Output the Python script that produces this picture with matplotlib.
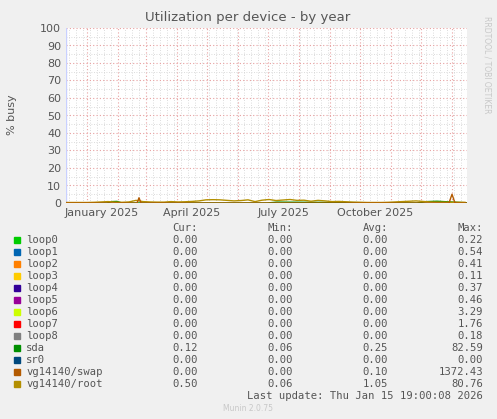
import numpy as np
import matplotlib.pyplot as plt

# days since 2025-01-01 ; plot spans roughly Dec 11 2024 .. Jan 15 2026
x_start, x_end = -21, 380

names = ['loop0', 'loop1', 'loop2', 'loop3', 'loop4', 'loop5', 'loop6',
         'loop7', 'loop8', 'sda', 'sr0', 'vg14140/swap', 'vg14140/root']
colors = ['#00cc00', '#0066b3', '#ff8000', '#ffcc00', '#330099', '#990099',
          '#ccff00', '#ff0000', '#808080', '#008f00', '#00487d', '#b35a00',
          '#b38f00']
cur = ['0.00'] * 9 + ['0.12', '0.00', '0.00', '0.50']
mins = ['0.00'] * 9 + ['0.06', '0.00', '0.00', '0.06']
avgs = ['0.00'] * 9 + ['0.25', '0.00', '0.10', '1.05']
maxs = ['0.22', '0.54', '0.41', '0.11', '0.37', '0.46', '3.29', '1.76',
        '0.18', '82.59', '0.00', '1372.43', '80.76']

# weekly samples
root_days = list(range(-21, 381, 7))
root_vals = [0.3, 0.3, 0.3, 0.3, 0.4, 0.6, 0.8, 0.5, 0.4, 0.6, 1.5, 0.8,
             0.6, 0.5, 0.5, 0.8, 0.6, 0.7, 0.9, 1.2, 1.8, 1.9, 1.8, 1.5,
             1.2, 1.4, 1.8, 0.8, 1.6, 2.0, 1.4, 1.7, 2.0, 1.5, 1.6, 1.0,
             1.5, 1.2, 0.8, 0.9, 0.7, 0.5, 0.4, 0.3, 0.3, 0.3, 0.4, 0.6,
             0.8, 1.0, 1.2, 0.9, 0.6, 0.5, 0.5, 0.4, 0.4, 0.4]
sda_days = [-21, 20, 25, 30, 35, 180, 190, 330, 340, 350, 360, 380]
sda_vals = [0.0, 0.0, 0.8, 0.9, 0.0, 0.0, 0.5, 0.0, 0.8, 1.0, 0.7, 0.1]
swap_days = [-21, 50, 52, 54, 362, 365, 368, 380]
swap_vals = [0.0, 0.0, 3.0, 0.0, 0.0, 5.0, 0.0, 0.0]

fig = plt.figure(figsize=(4.97, 4.19), dpi=100, facecolor='#f0f0f0')
W, H = 497, 419
ax = fig.add_axes([66 / W, 1 - 203 / H, 401 / W, 175 / H])
ax.set_facecolor('white')
ax.set_xlim(x_start, x_end)
ax.set_ylim(0, 100)

month_starts = [0, 31, 59, 90, 120, 151, 181, 212, 243, 273, 304, 334, 365]
ax.set_xticks(month_starts)
ax.set_xticks(range(-18, 381, 7), minor=True)
ax.set_yticks(range(0, 101, 10))
ax.set_yticks(range(5, 100, 10), minor=True)
ax.grid(True, which='major', color='#e8a0a0', linestyle=(0, (1, 2)), lw=0.8)
ax.grid(True, which='minor', color='#d0d0d0', linestyle=(0, (1, 2)), lw=0.6)
ax.tick_params(which='both', length=0, labelsize=8, colors='#555555')
ax.set_xticklabels([])
for d, lab in zip([15, 105, 196, 288],
                  ['January 2025', 'April 2025', 'July 2025', 'October 2025']):
    ax.text(d, -3, lab, ha='center', va='top', fontsize=8, color='#555555')
for s in ax.spines.values():
    s.set_visible(False)
ax.axhline(0, color='#c8d0ff', lw=1)
ax.axvline(x_start, color='#c8d0ff', lw=1)

ax.plot(sda_days, sda_vals, color=colors[9], lw=1)
ax.plot(root_days, root_vals[:len(root_days)], color=colors[12], lw=1)
ax.plot(swap_days, swap_vals, color=colors[11], lw=1)

fig.text(248 / W, 1 - 18 / H, 'Utilization per device - by year',
         ha='center', va='center', fontsize=9.5, color='#555555')
fig.text(12 / W, 1 - 115 / H, '% busy', rotation=90, ha='center',
         va='center', fontsize=8, color='#555555')
fig.text(487 / W, 1 - 65 / H, 'RRDTOOL / TOBI OETIKER', rotation=270,
         ha='center', va='center', fontsize=5.5, color='#c8c8c8')
fig.text(248 / W, 1 - 408 / H, 'Munin 2.0.75', ha='center', va='center',
         fontsize=5.5, color='#c8c8c8')

mono = dict(family='DejaVu Sans Mono', fontsize=7.6, color='#555555',
            va='center')
cols = [198, 293, 388, 483]
for cx, h in zip(cols, ['Cur:', 'Min:', 'Avg:', 'Max:']):
    fig.text(cx / W, 1 - 228 / H, h, ha='right', **mono)
for i, n in enumerate(names):
    y = 1 - (240 + 12 * i) / H
    fig.patches.append(plt.Rectangle((14 / W, y - 3 / H), 6 / W, 6 / H,
                                     color=colors[i],
                                     transform=fig.transFigure))
    fig.text(26 / W, y, n, ha='left', **mono)
    for cx, v in zip(cols, [cur[i], mins[i], avgs[i], maxs[i]]):
        fig.text(cx / W, y, v, ha='right', **mono)
fig.text(483 / W, 1 - 396 / H, 'Last update: Thu Jan 15 19:00:08 2026',
         ha='right', **mono)

fig.savefig('out.png', dpi=100, facecolor=fig.get_facecolor())
